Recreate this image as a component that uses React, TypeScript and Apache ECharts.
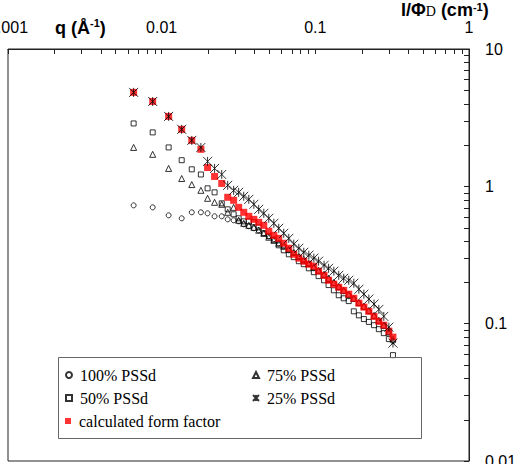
import React, { useEffect, useRef } from "react";
import * as echarts from "echarts";

// Scattering vector q (1/Å), shared by all samples
const qValues = [
  0.00657, 0.00874, 0.0111, 0.0135, 0.0157, 0.018, 0.0199, 0.0221, 0.0246, 0.0269,
  0.0294, 0.0317, 0.0342, 0.0369, 0.0398, 0.0428, 0.0462, 0.0498, 0.0537, 0.0578,
  0.0623, 0.0672, 0.0724, 0.0781, 0.0841, 0.0907, 0.0978, 0.105, 0.114, 0.122,
  0.132, 0.142, 0.153, 0.165, 0.178, 0.192, 0.207, 0.223, 0.241, 0.259,
  0.279, 0.301, 0.32,
];

// Normalised intensity I/ΦD (1/cm) per sample
const pss100 = [
  0.727, 0.703, 0.615, 0.585, 0.647, 0.647, 0.636, 0.605, 0.605, 0.575,
  0.566, 0.556, 0.529, 0.512, 0.495, 0.479, 0.455, 0.433, 0.412, 0.385,
  0.366, 0.342, 0.326, 0.305, 0.285, 0.271, 0.253, 0.241, 0.225, 0.211,
  0.197, 0.184, 0.172, 0.161, 0.151, 0.141, 0.132, 0.123, 0.113, 0.104,
  0.0959, 0.0868, 0.0746,
];
const pss75 = [
  1.92, 1.71, 1.35, 1.14, 1.03, 0.935, 0.818, 0.765, 0.74, 0.647,
  0.703, 0.566, 0.538, 0.52, 0.503, 0.479, 0.455, 0.426, 0.405, 0.385,
  0.366, 0.348, 0.331, 0.31, 0.294, 0.275, 0.258, 0.245, 0.229, 0.214,
  0.2, 0.187, 0.175, 0.164, 0.153, 0.143, 0.134, 0.125, 0.115, 0.106,
  0.0975, 0.0868, 0.0772,
];
const pss50 = [
  2.87, 2.47, 1.92, 1.55, 1.33, 1.22, 0.967, 0.904, 0.752, 0.68,
  0.626, 0.585, 0.556, 0.556, 0.547, 0.503, 0.455, 0.433, 0.405, 0.372,
  0.342, 0.32, 0.305, 0.285, 0.271, 0.253, 0.237, 0.222, 0.207, 0.191,
  0.175, 0.161, 0.153, 0.146, 0.123, 0.115, 0.108, 0.103, 0.0975, 0.0912,
  0.0853, 0.0772, 0.059,
];
const pss25 = [
  4.83, 4.15, 3.23, 2.6, 2.16, 1.92, 1.52, 1.35, 1.22, 1.017,
  0.935, 0.904, 0.846, 0.804, 0.74, 0.68, 0.636, 0.585, 0.538, 0.495,
  0.455, 0.418, 0.379, 0.354, 0.331, 0.315, 0.3, 0.285, 0.266, 0.253,
  0.241, 0.225, 0.214, 0.207, 0.197, 0.178, 0.164, 0.151, 0.139, 0.127,
  0.113, 0.0943, 0.0722,
];
const formFactor = [
  4.83, 4.15, 3.23, 2.6, 2.16, 1.86, 1.37, 1.18, 1.05, 0.832,
  0.791, 0.703, 0.647, 0.605, 0.575, 0.547, 0.52, 0.471, 0.44, 0.418,
  0.385, 0.354, 0.32, 0.3, 0.285, 0.271, 0.262, 0.241, 0.225, 0.207,
  0.194, 0.184, 0.175, 0.164, 0.153, 0.141, 0.132, 0.123, 0.113, 0.104,
  0.0975, 0.0882, 0.0798,
];

const seriesNames = ["100% PSSd", "75% PSSd", "50% PSSd", "25% PSSd", "calculated form factor"];

// Axis ranges and labels
const xRange = [0.001, 1];
const yRange = [0.01, 10];
const xTickLabels = ["0.001", "0.01", "0.1", "1"];
const yTickLabels = ["0.01", "0.1", "1", "10"];

// Logarithmic minor ticks (2..9 in each decade)
const xMinorTicks = [
  0.002, 0.003, 0.004, 0.005, 0.006, 0.007, 0.008, 0.009,
  0.02, 0.03, 0.04, 0.05, 0.06, 0.07, 0.08, 0.09,
  0.2, 0.3, 0.4, 0.5, 0.6, 0.7, 0.8, 0.9,
];
const yMinorTicks = [
  0.02, 0.03, 0.04, 0.05, 0.06, 0.07, 0.08, 0.09,
  0.2, 0.3, 0.4, 0.5, 0.6, 0.7, 0.8, 0.9,
  2, 3, 4, 5, 6, 7, 8, 9,
];

const SANS = "'Liberation Sans', Arial, Helvetica, sans-serif";
const SERIF = "'Liberation Serif', 'Times New Roman', Times, serif";
const AXIS_COLOR = "#222";

const pickLabel = (labels: string[]) => (v: number) => {
  const hit = labels.find((s) => Math.abs(Math.log10(Number(s)) - Math.log10(v)) < 1e-6);
  return hit ?? "";
};

const pairs = (ys: number[]) => qValues.map((q, i) => [q, ys[i]]);

const openStyle = { color: "transparent", borderColor: "#000", borderWidth: 1 };

export default function App() {
  const ref = useRef<HTMLDivElement>(null);

  useEffect(() => {
    document.body.style.margin = "0";
    if (!ref.current) return;
    const chart = echarts.init(ref.current, undefined, { renderer: "svg" });

    const minorTick = (name: string, data: number[][], vertical: boolean) => ({
      type: "custom",
      name,
      coordinateSystem: "cartesian2d",
      silent: true,
      clip: false,
      z: 5,
      data,
      renderItem: (_p: any, api: any) => {
        const pt = api.coord([api.value(0), api.value(1)]);
        if (vertical) {
          const x = Math.round(pt[0]) + 0.5;
          return {
            type: "line",
            shape: { x1: x, y1: pt[1], x2: x, y2: pt[1] + 5 },
            style: { stroke: AXIS_COLOR, lineWidth: 1 },
          };
        }
        const y = Math.round(pt[1]) + 0.5;
        return {
          type: "line",
          shape: { x1: pt[0], y1: y, x2: pt[0] - 5, y2: y },
          style: { stroke: AXIS_COLOR, lineWidth: 1 },
        };
      },
    });

    const legendCommon = {
      orient: "vertical",
      padding: 0,
      itemWidth: 6,
      itemHeight: 6,
      itemGap: 7,
      selectedMode: false,
      textStyle: { fontFamily: SERIF, fontSize: 16, color: "#000", padding: [0, 0, 0, 3] },
    };

    const option: any = {
      animation: false,
      backgroundColor: "#fff",
      grid: {
        left: 8,
        right: 49,
        top: 49,
        bottom: 3,
        containLabel: false,
        outerBoundsMode: "none",
        show: true,
        borderColor: AXIS_COLOR,
        borderWidth: 1,
        backgroundColor: "transparent",
      },
      xAxis: {
        type: "log",
        logBase: 10,
        min: xRange[0],
        max: xRange[1],
        position: "top",
        axisLine: { show: true, lineStyle: { color: AXIS_COLOR, width: 1 } },
        axisTick: { show: true, inside: true, length: 5, lineStyle: { color: AXIS_COLOR } },
        axisLabel: {
          margin: 14,
          fontSize: 16,
          fontFamily: SANS,
          color: "#000",
          showMinLabel: true,
          showMaxLabel: true,
          alignMinLabel: "center",
          alignMaxLabel: "center",
          formatter: pickLabel(xTickLabels),
        },
        splitLine: { show: false },
      },
      yAxis: {
        type: "log",
        logBase: 10,
        min: yRange[0],
        max: yRange[1],
        position: "right",
        axisLine: { show: true, lineStyle: { color: AXIS_COLOR, width: 1 } },
        axisTick: { show: true, inside: true, length: 5, lineStyle: { color: AXIS_COLOR } },
        axisLabel: {
          margin: 16,
          fontSize: 16,
          fontFamily: SANS,
          color: "#000",
          showMinLabel: true,
          showMaxLabel: true,
          verticalAlignMinLabel: "middle",
          verticalAlignMaxLabel: "middle",
          formatter: pickLabel(yTickLabels),
        },
        splitLine: { show: false },
      },
      legend: [
        { ...legendCommon, data: [seriesNames[0], seriesNames[2]], left: 65, top: 367 },
        { ...legendCommon, data: [seriesNames[1], seriesNames[3]], left: 252, top: 367 },
        { ...legendCommon, data: [seriesNames[4]], left: 65, top: 413 },
      ],
      graphic: [
        {
          type: "rect",
          shape: { x: 58.5, y: 357.5, width: 363, height: 81 },
          style: { fill: "none", stroke: "#666", lineWidth: 1 },
          z: 10,
        },
        {
          type: "text",
          x: 55,
          y: 17,
          z: 10,
          style: {
            text: "{b|q (Å}{sup|-1}{b|)}",
            align: "left",
            verticalAlign: "top",
            rich: {
              b: { fontFamily: SANS, fontWeight: "bold", fontSize: 18, lineHeight: 22, fill: "#000" },
              sup: { fontFamily: SANS, fontWeight: "bold", fontSize: 11, lineHeight: 22, verticalAlign: "top", fill: "#000" },
            },
          },
        },
        {
          type: "text",
          x: 401,
          y: 1,
          z: 10,
          style: {
            text: "{b|I/Φ}{sub|D}{b| (cm}{sup|-1}{b|)}",
            align: "left",
            verticalAlign: "top",
            rich: {
              b: { fontFamily: SANS, fontWeight: "bold", fontSize: 18, lineHeight: 17, fill: "#000" },
              sub: { fontFamily: SERIF, fontSize: 14, lineHeight: 17, verticalAlign: "bottom", fill: "#000" },
              sup: { fontFamily: SANS, fontWeight: "bold", fontSize: 11, lineHeight: 17, verticalAlign: "top", fill: "#000" },
            },
          },
        },
      ],
      series: [
        {
          name: seriesNames[0],
          type: "scatter",
          symbol: "circle",
          symbolSize: 5,
          itemStyle: openStyle,
          data: pairs(pss100),
          z: 2,
        },
        {
          name: seriesNames[1],
          type: "scatter",
          symbol: "triangle",
          symbolSize: 6,
          itemStyle: openStyle,
          data: pairs(pss75),
          z: 2,
        },
        {
          name: seriesNames[2],
          type: "scatter",
          symbol: "rect",
          symbolSize: 5,
          itemStyle: openStyle,
          data: pairs(pss50),
          z: 2,
        },
        {
          name: seriesNames[4],
          type: "scatter",
          symbol: "rect",
          symbolSize: 7,
          itemStyle: { color: "#f00" },
          data: pairs(formFactor),
          z: 3,
        },
        {
          name: seriesNames[3],
          type: "scatter",
          symbol: "path://M0 0L10 10M10 0L0 10M5 0L5 10",
          symbolSize: 9,
          itemStyle: openStyle,
          data: pairs(pss25),
          z: 4,
        },
        minorTick("xMinor", xMinorTicks.map((v) => [v, yRange[1]]), true),
        minorTick("yMinor", yMinorTicks.map((v) => [xRange[1], v]), false),
      ],
    };

    chart.setOption(option);
    return () => chart.dispose();
  }, []);

  return <div ref={ref} style={{ width: 518, height: 464 }} />;
}
